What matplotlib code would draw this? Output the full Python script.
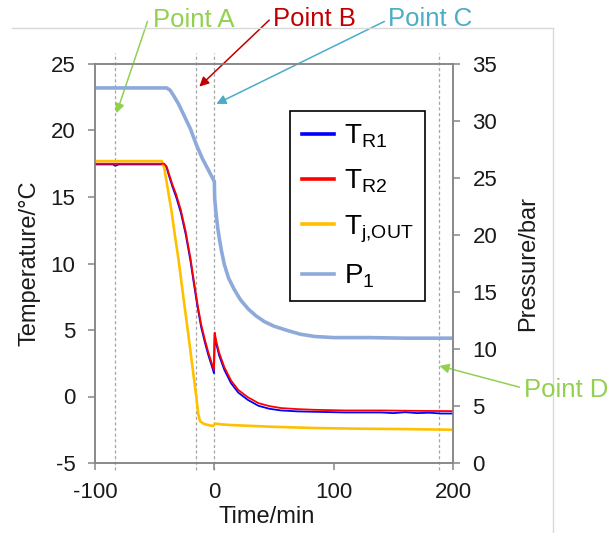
import matplotlib
matplotlib.use('Agg')
import matplotlib.pyplot as plt
from matplotlib.lines import Line2D

plt.rcParams['font.family'] = ['Liberation Sans', 'DejaVu Sans']
plt.rcParams['mathtext.default'] = 'regular'
plt.rcParams['axes.unicode_minus'] = False

# reactor temperature T_R2 (red)
t_r2 = [-100, -60, -42, -40, -37.5, -35, -32, -28, -24, -20, -17, -14, -11, -8, -5, -2.5, -0.3,
        0.3, 1.5, 4, 8.4, 14, 20, 28, 37, 46, 56, 70, 84, 110, 140, 170, 200]
T_r2 = [17.5, 17.5, 17.5, 17.3, 16.6, 15.9, 15.2, 14.0, 12.4, 10.4, 8.6, 6.9, 5.4, 4.3, 3.3, 2.6, 2.0,
        4.8, 4.2, 3.3, 2.2, 1.2, 0.5, -0.05, -0.5, -0.72, -0.87, -0.95, -1.0, -1.05, -1.05, -1.08, -1.1]

# reactor temperature T_R1 (blue)
t_r1 = [-100, -85, -83, -80, -60, -42, -40, -37.5, -35, -32, -28, -24, -20, -17, -14, -11, -8, -5, -2.5, -0.3,
        0.3, 1.5, 4, 8.4, 14, 20, 28, 37, 46, 56, 70, 84, 110, 140, 150, 160, 170, 180, 190, 200]
T_r1 = [17.45, 17.45, 17.35, 17.45, 17.45, 17.45, 17.2, 16.45, 15.75, 15.0, 13.8, 12.2, 10.2, 8.4, 6.7, 5.2, 4.1, 3.1, 2.4, 1.75,
        4.7, 4.0, 3.1, 2.0, 1.0, 0.3, -0.25, -0.7, -0.92, -1.05, -1.12, -1.15, -1.2, -1.2, -1.25, -1.18, -1.25, -1.22, -1.28, -1.28]

# jacket outlet temperature T_j,OUT (orange)
t_j = [-100, -44, -42, -39, -36, -33, -30, -26, -22, -18, -15, -13.5, -12, -9, -5, -1, 0.3, 2, 6, 15, 28, 50, 84, 120, 160, 200]
T_j = [17.7, 17.7, 17.2, 15.6, 14.0, 12.1, 10.3, 7.5, 4.8, 2.0, -0.1, -1.3, -1.85, -2.05, -2.15, -2.22, -2.05, -2.05,
       -2.1, -2.15, -2.2, -2.28, -2.37, -2.42, -2.45, -2.5]

# pressure P_1 (right axis)
t_p = [-100, -40, -37, -34, -30, -25, -20, -15, -10, -5, -2, 0, 0.3, 1.5, 3, 4.5, 6, 8.4, 12, 16.8, 22, 28.5,
       35, 42, 50, 62, 72, 84, 100, 130, 160, 200]
P_1 = [32.9, 32.9, 32.7, 32.2, 31.5, 30.4, 29.3, 27.9, 26.7, 25.7, 25.1, 24.7, 23.2, 21.8, 20.5, 19.5, 18.6, 17.4,
       16.2, 15.2, 14.3, 13.5, 12.9, 12.4, 12.0, 11.6, 11.3, 11.1, 11.0, 11.0, 10.95, 10.95]

event_times = [-83, -15, 0, 188]
event_names = ['Point A', 'Point B', 'Point C', 'Point D']
event_colors = ['#92d050', '#c00000', '#4bacc6', '#92d050']
# arrow tip / tail in data units of the temperature axis
arrow_tips = [(-82, 21.3), (-12.6, 23.3), (1.7, 22.0), (188.6, 2.3)]
arrow_tails = [(-56, 28.2), (46, 28.3), (142.5, 28.2), (255.7, 0.7)]

GRAY = '#868686'

fig = plt.figure(figsize=(6.09, 5.33), dpi=100)
ax = fig.add_axes([95/609, 1 - 463/533, 358/609, 399/533])
ax2 = ax.twinx()

for a in (ax, ax2):
    for s in a.spines.values():
        s.set_color(GRAY)
        s.set_linewidth(1.1)
    a.tick_params(direction='out', length=5, width=1.1, color=GRAY,
                  labelsize=16, pad=9, labelcolor='#1a1a1a')

for t in event_times:
    ax.axvline(t, ymin=-0.0175, ymax=1.0276, clip_on=False, color='#a6a6a6',
               lw=0.9, ls=(0, (2.5, 2)), zorder=1)

ax.plot(t_r1, T_r1, color='#0000ff', lw=1.3, zorder=3)
ax.plot(t_r2, T_r2, color='#ff0000', lw=1.3, zorder=4)
ax.plot(t_j, T_j, color='#ffc000', lw=1.9, zorder=3)
ax2.plot(t_p, P_1, color='#8eaadb', lw=2.6)

ax.set_xlim(-100, 200)
ax.set_ylim(-5, 25)
ax2.set_ylim(0, 35)
ax.set_xticks([-100, 0, 100, 200])
ax.set_yticks(range(-5, 26, 5))
ax2.set_yticks(range(0, 36, 5))

ax.set_xlabel('Time/min', fontsize=17, color='#1a1a1a')
ax.xaxis.set_label_coords(0.48, -0.108)
ax.set_ylabel('Temperature/°C', fontsize=17, color='#1a1a1a')
ax.yaxis.set_label_coords(-0.152, 0.5)
ax2.set_ylabel('Pressure/bar', fontsize=17, color='#1a1a1a')
ax2.yaxis.set_label_coords(1.18, 0.5)

handles = [Line2D([0], [0], color='#0000ff', lw=2.6),
           Line2D([0], [0], color='#ff0000', lw=2.6),
           Line2D([0], [0], color='#ffc000', lw=2.6),
           Line2D([0], [0], color='#8eaadb', lw=2.6)]
labels = [r'T$_{R1}$', r'T$_{R2}$', r'T$_{j{,}OUT}$', r'P$_{1}$']
leg = ax2.legend(handles, labels, loc='upper left', bbox_to_anchor=(290/609, 1 - 111/533),
                 bbox_transform=fig.transFigure, fontsize=20, handlelength=1.15,
                 handletextpad=0.38, labelspacing=0.64, borderpad=0.42, borderaxespad=0,
                 fancybox=False, framealpha=1, edgecolor='black')
leg.get_frame().set_linewidth(1.2)

text_pos = [(153, 27), (273, 26), (388, 26), (524, 397)]
for name, col, tip, tail, (px, py) in zip(event_names, event_colors, arrow_tips, arrow_tails, text_pos):
    ax.annotate('', xy=tip, xytext=tail, annotation_clip=False,
                arrowprops=dict(arrowstyle='-|>', color=col, lw=1.1, mutation_scale=14,
                                shrinkA=0, shrinkB=0))
    fig.text(px/609, 1 - py/533, name, color=col, fontsize=18.5, ha='left', va='baseline')

# light chart-area frame
fig.add_artist(Line2D([12/609, 553/609], [1 - 28/533, 1 - 28/533], transform=fig.transFigure,
                      color='#d9d9d9', lw=1))
fig.add_artist(Line2D([553/609, 553/609], [1 - 28/533, 0], transform=fig.transFigure,
                      color='#d9d9d9', lw=1))

fig.savefig('out.png', dpi=100)
